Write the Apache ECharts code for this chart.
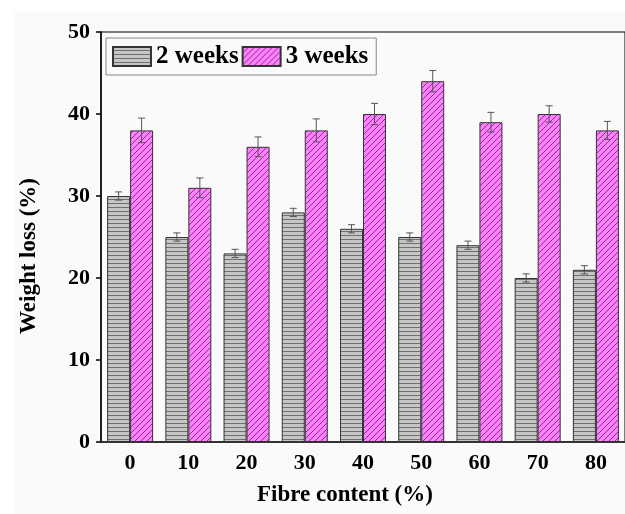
<!DOCTYPE html>
<html>
<head>
<meta charset="utf-8">
<script src="https://cdn.jsdelivr.net/npm/echarts@6/dist/echarts.min.js"></script>
<style>
html,body{margin:0;padding:0;background:#ffffff;}
#bg{position:absolute;left:14px;top:12px;width:611px;height:502px;background:#fafafa;}
#chart{position:absolute;left:0;top:0;width:625px;height:514px;}
</style>
</head>
<body>
<div id="bg"></div>
<div id="chart"></div>
<script>
const categories = ['0','10','20','30','40','50','60','70','80'];
const week2 = [30,25,23,28,26,25,24,20,21];
const week2Err = [0.5,0.5,0.5,0.5,0.5,0.5,0.5,0.5,0.5];
const week3 = [38,31,36,38,40,44,39,40,38];
const week3Err = [1.5,1.2,1.2,1.4,1.3,1.3,1.2,1.0,1.1];
const seriesNames = ['2 weeks','3 weeks'];
const yMin = 0, yMax = 50, yStep = 10;

const FONT = "'Liberation Serif','Times New Roman',serif";

function hPattern(){
  const c = document.createElement('canvas'); c.width = 4; c.height = 4;
  const g = c.getContext('2d');
  g.fillStyle = '#c6c6c6'; g.fillRect(0,0,4,4);
  g.fillStyle = '#707070'; g.fillRect(0,3,4,1);
  return c;
}
function dPattern(){
  const s = 6;
  const c = document.createElement('canvas'); c.width = s; c.height = s;
  const g = c.getContext('2d');
  g.fillStyle = '#ff80ff'; g.fillRect(0,0,s,s);
  g.strokeStyle = '#7a2a7a'; g.lineWidth = 0.9;
  g.beginPath();
  g.moveTo(0,s); g.lineTo(s,0);
  g.moveTo(-1,1); g.lineTo(1,-1);
  g.moveTo(s-1,s+1); g.lineTo(s+1,s-1);
  g.stroke();
  return c;
}

const BW = 23;
function errSeries(vals, errs, offset){
  return {
    type:'custom',
    silent:true,
    z:5,
    data: vals.map((v,i)=>[i, v-errs[i], v+errs[i]]),
    encode:{x:0,y:[1,2]},
    renderItem:function(params, api){
      const lo = api.coord([api.value(0), api.value(1)]);
      const hi = api.coord([api.value(0), api.value(2)]);
      const x = lo[0] + offset;
      const cw = 3.5;
      const st = {stroke:'#555', lineWidth:1};
      return {type:'group', children:[
        {type:'line', shape:{x1:x,y1:lo[1],x2:x,y2:hi[1]}, style:st},
        {type:'line', shape:{x1:x-cw,y1:lo[1],x2:x+cw,y2:lo[1]}, style:st},
        {type:'line', shape:{x1:x-cw,y1:hi[1],x2:x+cw,y2:hi[1]}, style:st}
      ]};
    }
  };
}

const chart = echarts.init(document.getElementById('chart'));
chart.setOption({
  backgroundColor:'transparent',
  animation:false,
  grid:{left:101, top:32, width:526, height:410, show:true, borderColor:'#000', borderWidth:1, backgroundColor:'transparent'},
  legend:{
    left:106, top:38,
    data:seriesNames,
    icon:'rect',
    itemWidth:38, itemHeight:19, itemGap:3,
    padding:[6,8,6,6],
    borderColor:'#888', borderWidth:1,
    textStyle:{fontFamily:FONT, fontWeight:'bold', fontSize:25, color:'#000'}
  },
  xAxis:{
    type:'category',
    data:categories,
    name:'Fibre content (%)',
    nameLocation:'middle',
    nameGap:42,
    nameTextStyle:{fontFamily:FONT, fontWeight:'bold', fontSize:23, color:'#000', padding:[0,36,0,0]},
    axisLine:{lineStyle:{color:'#333', width:2}},
    axisTick:{alignWithLabel:true, length:5, lineStyle:{color:'#333', width:1.5}},
    axisLabel:{margin:10, fontFamily:FONT, fontWeight:'bold', fontSize:22, color:'#000'},
    splitLine:{show:false}
  },
  yAxis:{
    type:'value',
    min:yMin, max:yMax, interval:yStep,
    name:'Weight loss (%)',
    nameLocation:'middle',
    nameGap:60,
    nameTextStyle:{fontFamily:FONT, fontWeight:'bold', fontSize:23, color:'#000', padding:[0,38,0,0]},
    axisLine:{show:true, lineStyle:{color:'#000', width:1.5}},
    axisTick:{show:true, length:5, lineStyle:{color:'#000', width:1.5}},
    axisLabel:{margin:11, fontFamily:FONT, fontWeight:'bold', fontSize:22, color:'#000'},
    splitLine:{show:false}
  },
  series:[
    {name:seriesNames[0], type:'bar', data:week2, barWidth:BW, barGap:'0%',
     itemStyle:{color:{image:hPattern(), repeat:'repeat'}, borderColor:'#333', borderWidth:1}},
    {name:seriesNames[1], type:'bar', data:week3, barWidth:BW, barGap:'0%',
     itemStyle:{color:{image:dPattern(), repeat:'repeat'}, borderColor:'#333', borderWidth:1}},
    errSeries(week2, week2Err, -BW/2),
    errSeries(week3, week3Err, BW/2)
  ]
});
</script>
</body>
</html>
